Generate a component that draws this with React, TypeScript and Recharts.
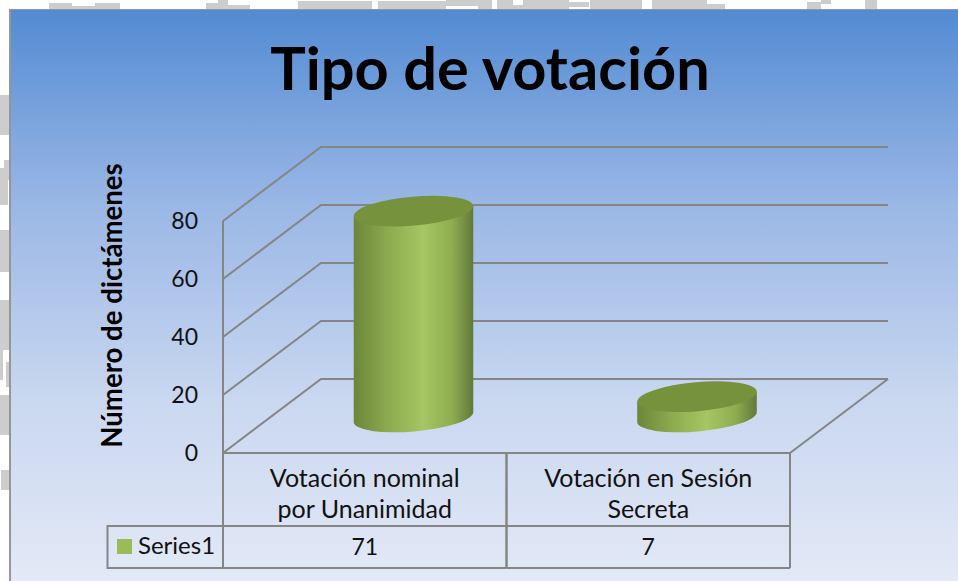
import React from "react";
import { BarChart, Bar, XAxis, YAxis, CartesianGrid } from "recharts";

const categories = ["Votación nominal\npor Unanimidad", "Votación en Sesión\nSecreta"];
const seriesName = "Series1";
const seriesValues = [71, 7];
const yTicks = [0, 20, 40, 60, 80];
const data = categories.map((name, i) => ({ name, value: seriesValues[i] }));

// Faint grey scan fragments around the frame: [left, top, width, height]
const scanFragments = [
  [49, 3, 23, 6], [72, 6, 23, 3], [95, 3, 25, 6], [206, 3, 12, 6], [218, 0, 10, 9], [228, 5, 22, 4],
  [298, 1, 74, 8], [378, 1, 68, 8], [446, 0, 32, 6], [478, 0, 14, 9], [497, 0, 16, 9], [513, 5, 12, 4],
  [523, 0, 46, 9], [569, 2, 20, 5], [590, 0, 52, 9], [652, 0, 55, 9], [707, 4, 18, 5], [807, 2, 14, 7],
  [821, 0, 10, 4], [865, 0, 12, 9], [0, 95, 9, 40], [0, 168, 8, 37], [4, 160, 5, 20], [0, 230, 9, 42],
  [0, 300, 9, 50], [0, 350, 3, 30], [6, 362, 3, 25], [0, 395, 9, 40], [1, 470, 8, 20],
];

const FONT = "Lato, Carlito, sans-serif";
const GRID = "#858585";
const LINE_WIDTH = 2;
const DEPTH_X = 98;
const DEPTH_Y = 74;
const WALL_RIGHT = 888;
const BAND = 283.5;
const TILT = 5;

function Cylinder(props: any) {
  const { x, y, width, height } = props;
  const a = width / 2;
  const b = 14.5;
  const cx = x + a + DEPTH_X / 2 - 0.5;
  const topY = y - DEPTH_Y / 2 + 1;
  const botY = topY + height;
  const dx = a * Math.cos((TILT * Math.PI) / 180);
  const dy = a * Math.sin((TILT * Math.PI) / 180);
  const body = `M${cx - dx} ${topY + dy} L${cx - dx} ${botY + dy} A${a} ${b} ${-TILT} 0 0 ${cx + dx} ${botY - dy} L${cx + dx} ${topY - dy} Z`;
  return (
    <g>
      <path d={body} fill="url(#cyl)" />
      <ellipse cx={cx} cy={topY} rx={a} ry={b} fill="#76923c" transform={`rotate(${-TILT} ${cx} ${topY})`} />
    </g>
  );
}

function WallLine(props: any) {
  const { x1, y1, index } = props;
  const bx = x1 + DEPTH_X;
  const by = y1 - DEPTH_Y;
  return (
    <g fill="none" stroke={GRID} strokeWidth={LINE_WIDTH}>
      <path d={`M${x1} ${y1} L${bx} ${by} L${WALL_RIGHT} ${by}`} />
      {index === 0 && <path d={`M${props.x2} ${y1} L${WALL_RIGHT} ${by}`} />}
    </g>
  );
}

function CategoryTick(props: any) {
  const { x, y, payload, index } = props;
  const lines = String(payload.value).split("\n");
  const left = x - BAND / 2;
  const right = x + BAND / 2;
  const rowTop = y + 73;
  const rowBottom = y + 115;
  return (
    <g>
      <path
        d={`M${left} ${y} V${rowBottom} M${right} ${y} V${rowBottom} M${left} ${rowTop} H${right} M${left} ${rowBottom} H${right}`}
        fill="none"
        stroke={GRID}
        strokeWidth={LINE_WIDTH}
      />
      {lines.map((line, i) => (
        <text key={line} x={x} y={y + 34 + i * 31} textAnchor="middle" fontFamily={FONT} fontSize={25} fill="#111">
          {line}
        </text>
      ))}
      <text x={x} y={y + 102} textAnchor="middle" fontFamily={FONT} fontSize={23} fill="#111">
        {seriesValues[index]}
      </text>
    </g>
  );
}

export default function App() {
  return (
    <div style={{ position: "absolute", left: 0, top: 0, width: 958, height: 581, overflow: "hidden", background: "#fff" }}>
      {scanFragments.map(([l, t, w, h]) => (
        <div key={`${l}-${t}`} style={{ position: "absolute", left: l, top: t, width: w, height: h, background: "#cdcdcd" }} />
      ))}
      <div
        style={{
          position: "absolute",
          left: 9,
          top: 9,
          width: 949,
          height: 572,
          borderLeft: "2px solid #969696",
          borderTop: "1px solid #969696",
          boxSizing: "border-box",
          background: "linear-gradient(180deg, #528bd3 0%, #9ab7e5 34%, #c9d7f0 68%, #e3e9f6 100%)",
        }}
      />
      <BarChart
        width={958}
        height={581}
        data={data}
        barSize={120}
        margin={{ top: 221, right: 168, bottom: 0, left: 163 }}
        style={{ position: "absolute", left: 0, top: 0 }}
      >
        <defs>
          <linearGradient id="cyl" x1="0" y1="0" x2="1" y2="0">
            <stop offset="0%" stopColor="#6c8639" />
            <stop offset="30%" stopColor="#8eac50" />
            <stop offset="58%" stopColor="#a5c663" />
            <stop offset="82%" stopColor="#8fad51" />
            <stop offset="100%" stopColor="#62793a" />
          </linearGradient>
        </defs>
        <CartesianGrid horizontal={(p: any) => <WallLine key={p.index} {...p} />} vertical={false} />
        <XAxis
          dataKey="name"
          height={128}
          interval={0}
          tickLine={false}
          tickSize={0}
          tickMargin={0}
          axisLine={{ stroke: GRID, strokeWidth: LINE_WIDTH }}
          tick={<CategoryTick />}
        />
        <YAxis
          width={60}
          domain={[0, 80]}
          ticks={yTicks}
          tickSize={0}
          tickMargin={25}
          axisLine={{ stroke: GRID, strokeWidth: LINE_WIDTH }}
          tick={{ fontFamily: FONT, fontSize: 23, fill: "#111" }}
        />
        <Bar dataKey="value" name={seriesName} shape={<Cylinder />} isAnimationActive={false} />
        <text x={490} y={90} textAnchor="middle" fontFamily={FONT} fontSize={59.5} fontWeight={700} fill="#000">
          Tipo de votación
        </text>
        <text
          x={0}
          y={0}
          transform="translate(122 305.5) rotate(-90)"
          textAnchor="middle"
          fontFamily={FONT}
          fontSize={27.6}
          fontWeight={700}
          fill="#000"
        >
          Número de dictámenes
        </text>
        <rect x={107.5} y={526} width={115.5} height={42} fill="none" stroke={GRID} strokeWidth={LINE_WIDTH} />
        <rect x={117} y={539} width={15} height={15} fill="#9bbb59" />
        <text x={138} y={554} fontFamily={FONT} fontSize={24} fill="#111">
          {seriesName}
        </text>
      </BarChart>
    </div>
  );
}
